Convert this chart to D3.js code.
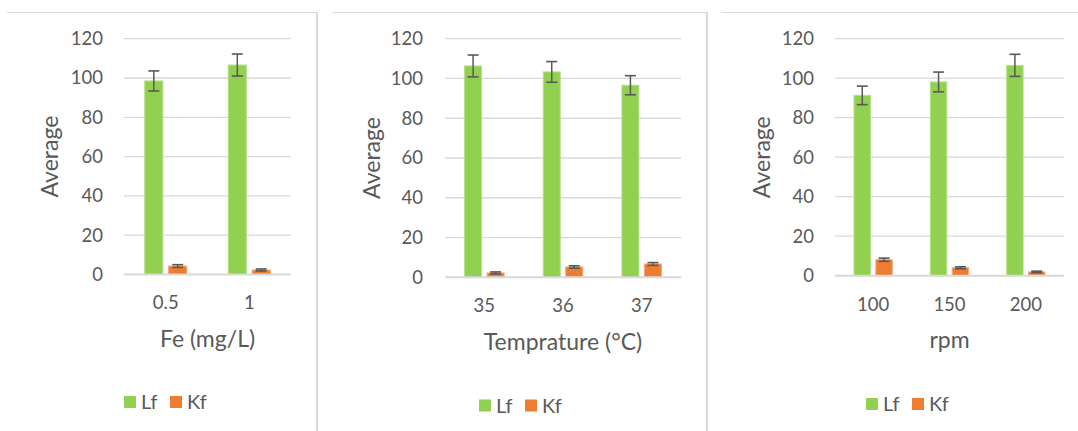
<!DOCTYPE html>
<html>
<head>
<meta charset="utf-8">
<script src="https://cdn.jsdelivr.net/npm/d3@7"></script>
<style>
  body { margin: 0; background: #fff; }
  text { font-family: Lato, "Open Sans", sans-serif; fill: #595959; }
</style>
</head>
<body>
<div id="chart"></div>
<script>
// values
var seriesNames = ["Lf", "Kf"];
var yTicks = [0, 20, 40, 60, 80, 100, 120];

var feCats = ["0.5", "1"];
var feLf = [98.5, 106.6];
var feLfErr = [5.1, 5.6];
var feKf = [4.3, 2.3];
var feKfErr = [0.7, 0.5];

var tempCats = ["35", "36", "37"];
var tempLf = [106.3, 103.3, 96.6];
var tempLfErr = [5.5, 5.2, 4.8];
var tempKf = [2.2, 5.2, 6.7];
var tempKfErr = [0.5, 0.6, 0.7];

var rpmCats = ["100", "150", "200"];
var rpmLf = [91.3, 98.1, 106.5];
var rpmLfErr = [4.7, 5.0, 5.6];
var rpmKf = [8.1, 4.0, 1.9];
var rpmKfErr = [0.8, 0.5, 0.4];

var colors = { Lf: "#92D050", Kf: "#ED7D31" };
var strokes = { Lf: "#b5e08a", Kf: "#f4a878" };

var svg = d3.select("#chart").append("svg")
  .attr("width", 1078)
  .attr("height", 431);

// panel frames (top + right edge of each cropped excel chart)
var frames = [[7, 317], [332, 707], [722, 1080]];
frames.forEach(function(f) {
  svg.append("line").attr("x1", f[0]).attr("x2", f[1]).attr("y1", 12.5).attr("y2", 12.5)
    .style("stroke", "#d9d9d9").style("stroke-width", 1);
  svg.append("line").attr("x1", f[1]).attr("x2", f[1]).attr("y1", 12).attr("y2", 431)
    .style("stroke", "#d9d9d9").style("stroke-width", 2);
});

var panels = [
  { cats: feCats, lf: feLf, lfErr: feLfErr, kf: feKf, kfErr: feKfErr, title: "Fe (mg/L)",
    left: 124, right: 291, zero: 274.5, top: 38.7, tickX: 103, titleX: 50, xTickY: 303, xTitleY: 339, legX: 124, legY: 402 },
  { cats: tempCats, lf: tempLf, lfErr: tempLfErr, kf: tempKf, kfErr: tempKfErr, title: "Temprature (°C)",
    left: 445, right: 681, zero: 277.3, top: 38.7, tickX: 423, titleX: 372, xTickY: 306, xTitleY: 342, legX: 479, legY: 405.5 },
  { cats: rpmCats, lf: rpmLf, lfErr: rpmLfErr, kf: rpmKf, kfErr: rpmKfErr, title: "rpm",
    left: 835, right: 1064, zero: 275.7, top: 38.7, tickX: 814, titleX: 762, xTickY: 305, xTitleY: 340, legX: 866, legY: 404 }
];

panels.forEach(function(p) {
  var g = svg.append("g");

  var y = d3.scaleLinear().domain([0, 120]).range([p.zero, p.top]);
  var x0 = d3.scaleBand().domain(p.cats).range([p.left, p.right])
    .paddingInner(0.485).paddingOuter(0.2425);
  var x1 = d3.scaleBand().domain(seriesNames).range([0, x0.bandwidth()]).paddingInner(0.2);

  // gridlines
  g.selectAll(".grid")
    .data(yTicks.filter(function(t) { return t > 0; }))
    .enter()
    .append("line")
      .attr("x1", p.left).attr("x2", p.right)
      .attr("y1", function(d) { return y(d); })
      .attr("y2", function(d) { return y(d); })
      .style("stroke", "#d9d9d9")
      .style("stroke-width", 1.3);

  // y tick labels
  g.selectAll(".ytick")
    .data(yTicks)
    .enter()
    .append("text")
      .attr("x", p.tickX)
      .attr("y", function(d) { return y(d); })
      .attr("dy", "0.35em")
      .attr("text-anchor", "end")
      .style("font-size", "18.5px")
      .text(function(d) { return d; });

  var rows = p.cats.map(function(c, i) {
    return { cat: c, vals: [
      { key: "Lf", v: p.lf[i], e: p.lfErr[i] },
      { key: "Kf", v: p.kf[i], e: p.kfErr[i] }
    ] };
  });

  var groups = g.selectAll(".cat")
    .data(rows)
    .enter()
    .append("g")
      .attr("transform", function(d) { return "translate(" + x0(d.cat) + ",0)"; });

  groups.selectAll("rect")
    .data(function(d) { return d.vals; })
    .enter()
    .append("rect")
      .attr("x", function(d) { return x1(d.key) + 0.5; })
      .attr("y", function(d) { return y(d.v); })
      .attr("width", x1.bandwidth() - 1)
      .attr("height", function(d) { return y(0) - y(d.v); })
      .style("fill", function(d) { return colors[d.key]; })
      .style("stroke", function(d) { return strokes[d.key]; })
      .style("stroke-width", 1);

  // error bars
  var eb = groups.selectAll(".err")
    .data(function(d) { return d.vals; })
    .enter()
    .append("g");
  var cx = function(d) { return x1(d.key) + x1.bandwidth() / 2; };
  eb.append("line")
    .attr("x1", cx).attr("x2", cx)
    .attr("y1", function(d) { return y(d.v + d.e); })
    .attr("y2", function(d) { return y(d.v - d.e); })
    .style("stroke", "#595959").style("stroke-width", 1.5);
  eb.append("line")
    .attr("x1", function(d) { return cx(d) - 5.5; })
    .attr("x2", function(d) { return cx(d) + 5.5; })
    .attr("y1", function(d) { return y(d.v + d.e); })
    .attr("y2", function(d) { return y(d.v + d.e); })
    .style("stroke", "#595959").style("stroke-width", 1.6);
  eb.append("line")
    .attr("x1", function(d) { return cx(d) - 5.5; })
    .attr("x2", function(d) { return cx(d) + 5.5; })
    .attr("y1", function(d) { return y(d.v - d.e); })
    .attr("y2", function(d) { return y(d.v - d.e); })
    .style("stroke", "#595959").style("stroke-width", 1.6);

  // x axis line
  g.append("line")
    .attr("x1", p.left).attr("x2", p.right)
    .attr("y1", y(0)).attr("y2", y(0))
    .style("stroke", "#d9d9d9").style("stroke-width", 2);

  // x tick labels
  g.selectAll(".xtick")
    .data(p.cats)
    .enter()
    .append("text")
      .attr("x", function(d) { return x0(d) + x0.bandwidth() / 2; })
      .attr("y", p.xTickY)
      .attr("dy", "0.35em")
      .attr("text-anchor", "middle")
      .style("font-size", "18.5px")
      .text(function(d) { return d; });

  // axis titles
  g.append("text")
    .attr("x", (p.left + p.right) / 2)
    .attr("y", p.xTitleY)
    .attr("dy", "0.35em")
    .attr("text-anchor", "middle")
    .style("font-size", "23px")
    .text(p.title);

  g.append("text")
    .attr("transform", "translate(" + p.titleX + "," + (p.top + p.zero) / 2 + ") rotate(-90)")
    .attr("dy", "0.35em")
    .attr("text-anchor", "middle")
    .style("font-size", "23px")
    .text("Average");

  // legend
  var leg = g.selectAll(".leg")
    .data(seriesNames)
    .enter()
    .append("g")
      .attr("transform", function(d, i) { return "translate(" + (p.legX + i * 46) + "," + p.legY + ")"; });
  leg.append("rect")
    .attr("x", 0).attr("y", -6)
    .attr("width", 12).attr("height", 12)
    .style("fill", function(d) { return colors[d]; });
  leg.append("text")
    .attr("x", 17)
    .attr("dy", "0.35em")
    .style("font-size", "20px")
    .text(function(d) { return d; });
});
</script>
</body>
</html>
